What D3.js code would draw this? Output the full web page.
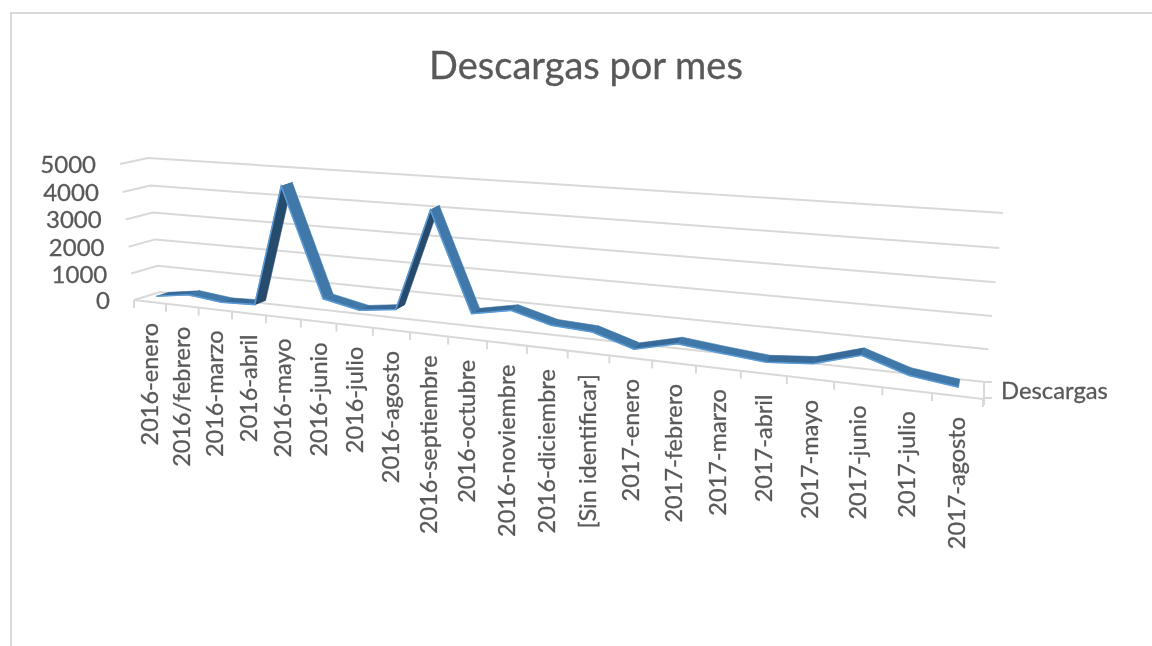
<!DOCTYPE html>
<html>
<head>
<meta charset="utf-8">
<script src="https://cdn.jsdelivr.net/npm/d3@7"></script>
<style>
    html, body { margin: 0; padding: 0; background: #fff; overflow: hidden; }
    svg { filter: blur(0.45px); }
    text { font-family: Lato, "Open Sans", sans-serif; fill: #595959; stroke: #595959; stroke-width: 0.3px; }
</style>
</head>
<body>
<div id="chart"></div>
<script>
const categories = ["2016-enero", "2016/febrero", "2016-marzo", "2016-abril", "2016-mayo", "2016-junio",
    "2016-julio", "2016-agosto", "2016-septiembre", "2016-octubre", "2016-noviembre", "2016-diciembre",
    "[Sin identificar]", "2017-enero", "2017-febrero", "2017-marzo", "2017-abril", "2017-mayo",
    "2017-junio", "2017-julio", "2017-agosto"];
const descargas = [130, 320, 180, 230, 4550, 720, 450, 620, 4130, 760, 1020, 660, 590, 170, 510, 360, 230, 350, 780, 320, 130];
const yTicks = [0, 1000, 2000, 3000, 4000, 5000];
const seriesName = "Descargas";

const width = 1152, height = 646;

const svg = d3.select("#chart").append("svg")
    .attr("width", width)
    .attr("height", height);

// frame of the chart area, only left and top show in the picture
svg.append("path")
    .attr("d", `M11,${height} V13 H${width}`)
    .attr("fill", "none")
    .attr("stroke", "#d9d9d9")
    .attr("stroke-width", 2);

svg.append("text")
    .attr("x", 586)
    .attr("y", 79)
    .attr("text-anchor", "middle")
    .attr("font-size", 38)
    .text("Descargas por mes");

// unit square to quad, corners are tl, tr, br, bl
function quadMap(q) {
    const [p0, p1, p2, p3] = q;
    const dx1 = p1[0] - p2[0], dx2 = p3[0] - p2[0], sx = p0[0] - p1[0] + p2[0] - p3[0];
    const dy1 = p1[1] - p2[1], dy2 = p3[1] - p2[1], sy = p0[1] - p1[1] + p2[1] - p3[1];
    const den = dx1 * dy2 - dx2 * dy1;
    const g = (sx * dy2 - dx2 * sy) / den;
    const h = (dx1 * sy - sx * dy1) / den;
    const a = p1[0] - p0[0] + g * p1[0], b = p3[0] - p0[0] + h * p3[0];
    const d = p1[1] - p0[1] + g * p1[1], e = p3[1] - p0[1] + h * p3[1];
    return (u, v) => {
        const w = g * u + h * v + 1;
        return [(a * u + b * v + p0[0]) / w, (d * u + e * v + p0[1]) / w];
    };
}

// the 3D box of the Excel chart: front and back plane of the plot
const frontPlane = quadMap([[120, 164], [1002, 228], [983, 399], [134, 300]]);
const backPlane = quadMap([[148, 158], [1003, 213], [985, 382], [160, 292]]);

const x = d3.scaleBand().domain(categories).range([0, 1]);
const y = d3.scaleLinear().domain([0, 5000]).range([1, 0]);

function project(u, v, depth) {
    const f = frontPlane(u, v), b = backPlane(u, v);
    return [f[0] + (b[0] - f[0]) * depth, f[1] + (b[1] - f[1]) * depth];
}

const line = d3.line();
const grid = svg.append("g")
    .attr("fill", "none")
    .attr("stroke", "#d9d9d9")
    .attr("stroke-width", 2);

// grid lines run along the left side and then the back wall
grid.selectAll(".grid")
    .data(yTicks)
    .join("path")
    .attr("class", "grid")
    .attr("d", d => line([project(0, y(d), 0), project(0, y(d), 1), project(1, y(d), 1)]));

// floor front edge with the category ticks
grid.append("path").attr("d", line([project(0, 1, 0), project(1, 1, 0)]));

const tickPos = d3.range(categories.length + 1).map(i => i / categories.length);
grid.selectAll(".tick")
    .data(tickPos)
    .join("path")
    .attr("class", "tick")
    .attr("d", d => {
        const p = project(d, 1, 0);
        return line([p, [p[0], p[1] + 8]]);
    });

// depth axis on the right
grid.append("path").attr("d", "M992,382 H984 V405 M984,398 H992");

svg.selectAll(".y-label")
    .data(yTicks)
    .join("text")
    .attr("class", "y-label")
    .attr("x", d => project(0, y(d), 0)[0] - 24)
    .attr("y", d => project(0, y(d), 0)[1] + 9)
    .attr("text-anchor", "end")
    .attr("font-size", 24)
    .text(d => d);

svg.selectAll(".x-label")
    .data(categories)
    .join("text")
    .attr("class", "x-label")
    .attr("text-anchor", "end")
    .attr("dominant-baseline", "middle")
    .attr("font-size", 23.5)
    .attr("transform", d => {
        const p = project(x(d) + x.bandwidth() / 2, 1, 0);
        return `translate(${p[0] + 2},${p[1] + 21}) rotate(-90)`;
    })
    .text(d => d);

svg.append("text")
    .attr("x", 1001)
    .attr("y", 399)
    .attr("font-size", 23.8)
    .text(seriesName);

// ribbon, one quad per month pair
const d1 = 0.27, d2 = 0.75;
const pts = categories.map((c, i) => ({u: x(c) + x.bandwidth() / 2, v: y(descargas[i]), value: descargas[i]}));
const segments = d3.pairs(pts);

const segColor = ([a, b]) => {
    const rise = b.value - a.value;
    if (rise > 1000) return "#274b6d";
    if (rise > 0) return "#376a98";
    return "#3f78a9";
};

const ribbon = svg.append("g");
ribbon.selectAll(".seg")
    .data(segments)
    .join("path")
    .attr("class", "seg")
    .attr("d", ([a, b]) => line([
        project(a.u, a.v, d1), project(b.u, b.v, d1),
        project(b.u, b.v, d2), project(a.u, a.v, d2)
    ]) + "Z")
    .attr("fill", segColor)
    .attr("stroke", segColor)
    .attr("stroke-width", 0.6);

ribbon.append("path")
    .attr("d", line(pts.map(p => project(p.u, p.v, d1))))
    .attr("fill", "none")
    .attr("stroke", "#5b9bd5")
    .attr("stroke-width", 1.6);
</script>
</body>
</html>
